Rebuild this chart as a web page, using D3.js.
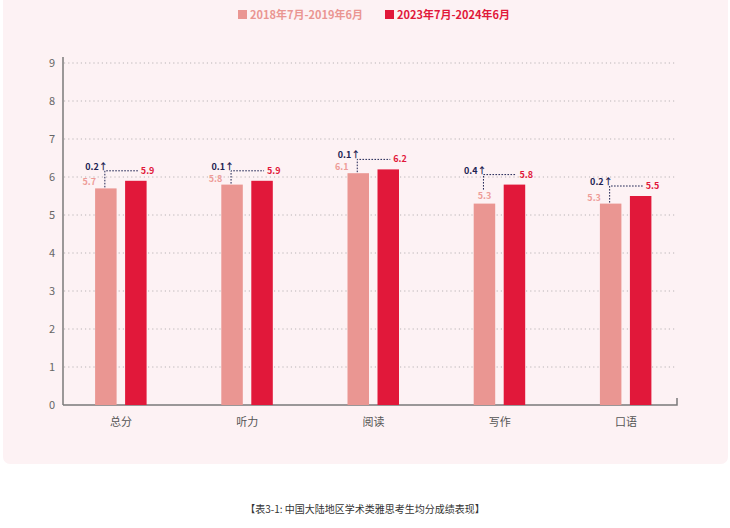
<!DOCTYPE html>
<html>
<head>
<meta charset="utf-8">
<script src="https://cdn.jsdelivr.net/npm/d3@7"></script>
<style>
  body { margin: 0; background: #fff; }
  svg { display: block; font-family: "Noto Sans CJK SC", "Noto Sans", sans-serif; }
</style>
</head>
<body>
<script>
// data
var categories = ["总分", "听力", "阅读", "写作", "口语"];
var series = ["2018年7月-2019年6月", "2023年7月-2024年6月"];
var before = [5.7, 5.8, 6.1, 5.3, 5.3];
var after = [5.9, 5.9, 6.2, 5.8, 5.5];
var gains = [0.2, 0.1, 0.1, 0.4, 0.2];   // as printed (unrounded source values)
var yTicks = [0, 1, 2, 3, 4, 5, 6, 7, 8, 9];
var caption = "【表3-1: 中国大陆地区学术类雅思考生均分成绩表现】";

var width = 730, height = 528;
var light = "#EA9692", dark = "#E1183A", navy = "#1E2352";

var svg = d3.select("body").append("svg")
    .attr("width", width)
    .attr("height", height);

// pink panel
svg.append("rect")
    .attr("x", 3).attr("y", -10)
    .attr("width", 725).attr("height", 474)
    .attr("rx", 7)
    .attr("fill", "#FDF2F4");

var y = d3.scaleLinear().domain([0, 9]).range([405, 63]);
var x = d3.scaleBand().domain(categories).range([58, 689]);
var barW = 21.5;

// gridlines
svg.append("g").selectAll("line")
    .data(yTicks.filter(function(d){ return d > 0; }))
    .join("line")
    .attr("x1", 64).attr("x2", 677)
    .attr("y1", function(d){ return y(d); })
    .attr("y2", function(d){ return y(d); })
    .attr("stroke", "#b9b4b6")
    .attr("stroke-width", 1)
    .attr("stroke-dasharray", "1.2,3");

// y axis
var yAxis = svg.append("g")
    .attr("transform", "translate(63,0)")
    .call(d3.axisLeft(y).tickValues(yTicks).tickSize(0).tickPadding(8));
yAxis.select(".domain").attr("stroke", "#7a7a7a").attr("stroke-width", 1.5)
    .attr("d", "M0,57V405");
yAxis.selectAll("text").attr("fill", "#666").style("font-size", "11px")
    .style("font-family", "'Noto Sans CJK SC', sans-serif");

// x axis line with end tick
svg.append("path")
    .attr("d", "M63,405H677V398")
    .attr("fill", "none")
    .attr("stroke", "#7a7a7a")
    .attr("stroke-width", 1.5);

// category labels
svg.append("g").selectAll("text")
    .data(categories)
    .join("text")
    .attr("x", function(d){ return x(d) + x.bandwidth() / 2; })
    .attr("y", 426)
    .attr("text-anchor", "middle")
    .attr("fill", "#555")
    .style("font-size", "11px")
    .text(function(d){ return d; });

var rows = categories.map(function(c, i){
    return { cat: c, a: before[i], b: after[i], gain: gains[i] };
});

function cx(d){ return x(d.cat) + x.bandwidth() / 2; }

// bars
var g = svg.append("g");
g.selectAll(".b1").data(rows).join("rect")
    .attr("x", function(d){ return cx(d) - 26; })
    .attr("y", function(d){ return y(d.a); })
    .attr("width", barW)
    .attr("height", function(d){ return y(0) - y(d.a); })
    .attr("fill", light);
g.selectAll(".b2").data(rows).join("rect")
    .attr("x", function(d){ return cx(d) + 4; })
    .attr("y", function(d){ return y(d.b); })
    .attr("width", barW)
    .attr("height", function(d){ return y(0) - y(d.b); })
    .attr("fill", dark);

// annotations
rows.forEach(function(d){
    var lx = cx(d) - 26 + barW / 2 - 1;   // vertical line x
    var dx = cx(d) + 4 + barW / 2;        // dark bar centre
    var lineY = y(d.b) - 10;
    var lightTop = y(d.a);
    var above = (lightTop - lineY) > 18;
    var bottom = above ? lightTop - 14 : lightTop - 1;

    svg.append("path")
        .attr("d", "M" + lx + "," + bottom + "V" + lineY + "H" + (dx + 2))
        .attr("fill", "none")
        .attr("stroke", navy)
        .attr("stroke-width", 1)
        .attr("stroke-dasharray", "1.6,1.4");

    svg.append("text")
        .attr("x", above ? lx + 1 : cx(d) - 26 + 1)
        .attr("y", above ? lightTop - 5 : lightTop - 3)
        .attr("text-anchor", above ? "middle" : "end")
        .attr("fill", "#EE9C98")
        .style("font-size", "9px")
        .style("font-weight", "bold")
        .text(d3.format(".1f")(d.a));

    svg.append("text")
        .attr("x", dx + 5)
        .attr("y", lineY + 3)
        .attr("fill", dark)
        .style("font-size", "9px")
        .style("font-weight", "bold")
        .text(d3.format(".1f")(d.b));

    svg.append("text")
        .attr("x", lx + 3)
        .attr("y", lineY - 1)
        .attr("text-anchor", "end")
        .attr("fill", navy)
        .style("font-size", "9px")
        .style("font-weight", "bold")
        .text(d3.format(".1f")(d.gain) + "↑");
});

// legend
var legend = svg.append("g").attr("transform", "translate(238,9)");
var lx0 = [0, 147];
series.forEach(function(s, i){
    var item = legend.append("g").attr("transform", "translate(" + lx0[i] + ",0)");
    item.append("rect").attr("width", 9).attr("height", 9).attr("y", 1)
        .attr("fill", i === 0 ? light : dark);
    item.append("text").attr("x", 12).attr("y", 10)
        .attr("fill", i === 0 ? light : dark)
        .style("font-size", "11px")
        .style("font-weight", "bold")
        .text(s);
});

// caption
svg.append("text")
    .attr("x", 365).attr("y", 513)
    .attr("text-anchor", "middle")
    .attr("fill", "#333")
    .style("font-size", "10px")
    .text(caption);
</script>
</body>
</html>
